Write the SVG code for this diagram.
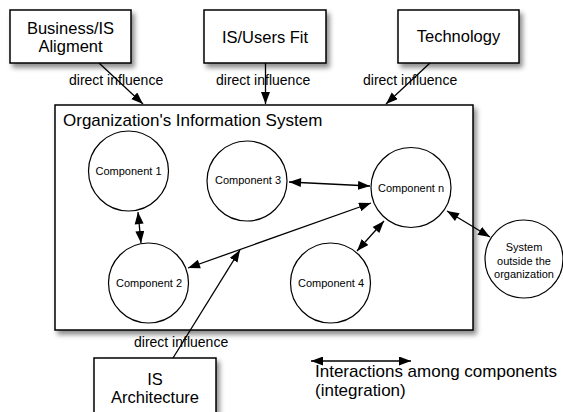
<svg xmlns="http://www.w3.org/2000/svg" width="563" height="412" viewBox="0 0 563 412">
<style>
.box{fill:#fff;stroke:#000;stroke-width:1.5;filter:url(#sh)}
.circ{fill:#fff;stroke:#000;stroke-width:1.2}
.lbl{font-family:"Liberation Sans",Arial,sans-serif;font-size:16.5px;fill:#000;text-anchor:middle}
.cl{font-family:"Liberation Sans",Arial,sans-serif;font-size:11px;fill:#000;text-anchor:middle}
.di{font-family:"Liberation Sans",Arial,sans-serif;font-size:14px;fill:#000}
.big{font-family:"Liberation Sans",Arial,sans-serif;font-size:17px;fill:#000}
.ln{stroke:#000;stroke-width:1.3;fill:none}
.one{marker-end:url(#ah)}
.two{marker-start:url(#as);marker-end:url(#ah)}
</style>
<defs>
<filter id="sh" x="-20%" y="-20%" width="150%" height="150%">
<feDropShadow dx="3" dy="4" stdDeviation="2.5" flood-color="#000" flood-opacity="0.45"/>
</filter>
<marker id="ah" markerUnits="userSpaceOnUse" markerWidth="13" markerHeight="10" refX="12" refY="4.5" orient="auto">
<path d="M0,0 L12,4.5 L0,9 z" fill="#000"/>
</marker>
<marker id="as" markerUnits="userSpaceOnUse" markerWidth="13" markerHeight="10" refX="0" refY="4.5" orient="auto">
<path d="M12,0 L0,4.5 L12,9 z" fill="#000"/>
</marker>
</defs>
<rect width="563" height="412" fill="#fff"/>

<g id="container">
<rect class="box" x="55" y="105" width="418" height="225"/>
<text class="big" x="63" y="126">Organization's Information System</text>
</g>

<g id="business">
<rect class="box" x="10" y="10" width="121" height="53"/>
<text class="lbl" x="70.5" y="34">Business/IS</text>
<text class="lbl" x="70.5" y="52">Aligment</text>
</g>
<g id="usersfit">
<rect class="box" x="204" y="10" width="122" height="53"/>
<text class="lbl" x="265" y="42.5">IS/Users Fit</text>
</g>
<g id="technology">
<rect class="box" x="398" y="10" width="121" height="53"/>
<text class="lbl" x="458.5" y="42">Technology</text>
</g>
<g id="architecture">
<rect class="box" x="94" y="358" width="122" height="60"/>
<text class="lbl" x="155" y="385">IS</text>
<text class="lbl" x="155" y="403">Architecture</text>
</g>

<g id="c1"><circle class="circ" cx="128.5" cy="171" r="40"/><text class="cl" x="128.5" y="174.5">Component 1</text></g>
<g id="c3"><circle class="circ" cx="247" cy="181" r="40"/><text class="cl" x="248" y="184">Component 3</text></g>
<g id="c2"><circle class="circ" cx="148.5" cy="283" r="40"/><text class="cl" x="149" y="287">Component 2</text></g>
<g id="cn"><circle class="circ" cx="411" cy="187.5" r="40"/><text class="cl" x="411" y="191.5">Component n</text></g>
<g id="c4"><circle class="circ" cx="330.5" cy="283" r="40"/><text class="cl" x="331" y="287">Component 4</text></g>
<g id="outside"><circle class="circ" cx="524" cy="259" r="39"/>
<text class="cl" x="524" y="251">System</text>
<text class="cl" x="524" y="264.5">outside the</text>
<text class="cl" x="524" y="278">organization</text></g>

<g id="connectors">
<line class="ln one" x1="99" y1="63" x2="143" y2="104"/>
<line class="ln one" x1="265.5" y1="63" x2="265.5" y2="104"/>
<line class="ln one" x1="430" y1="63" x2="386" y2="104"/>
<line class="ln one" x1="173" y1="358" x2="240" y2="250"/>
<line class="ln two" x1="138" y1="212" x2="141" y2="243"/>
<line class="ln two" x1="289" y1="182" x2="370" y2="186"/>
<line class="ln two" x1="188" y1="268" x2="371" y2="203"/>
<line class="ln two" x1="384" y1="221" x2="357" y2="251"/>
<line class="ln two" x1="447" y1="211" x2="490" y2="237"/>
<line class="ln two" x1="311" y1="361" x2="411" y2="361"/>
<text class="di" x="69" y="85">direct influence</text>
<text class="di" x="216" y="85">direct influence</text>
<text class="di" x="363" y="85">direct influence</text>
<text class="di" x="134" y="347">direct influence</text>
</g>

<g id="legend">
<text class="big" x="315" y="377">Interactions among components</text>
<text class="big" x="315" y="396">(integration)</text>
</g>
</svg>
